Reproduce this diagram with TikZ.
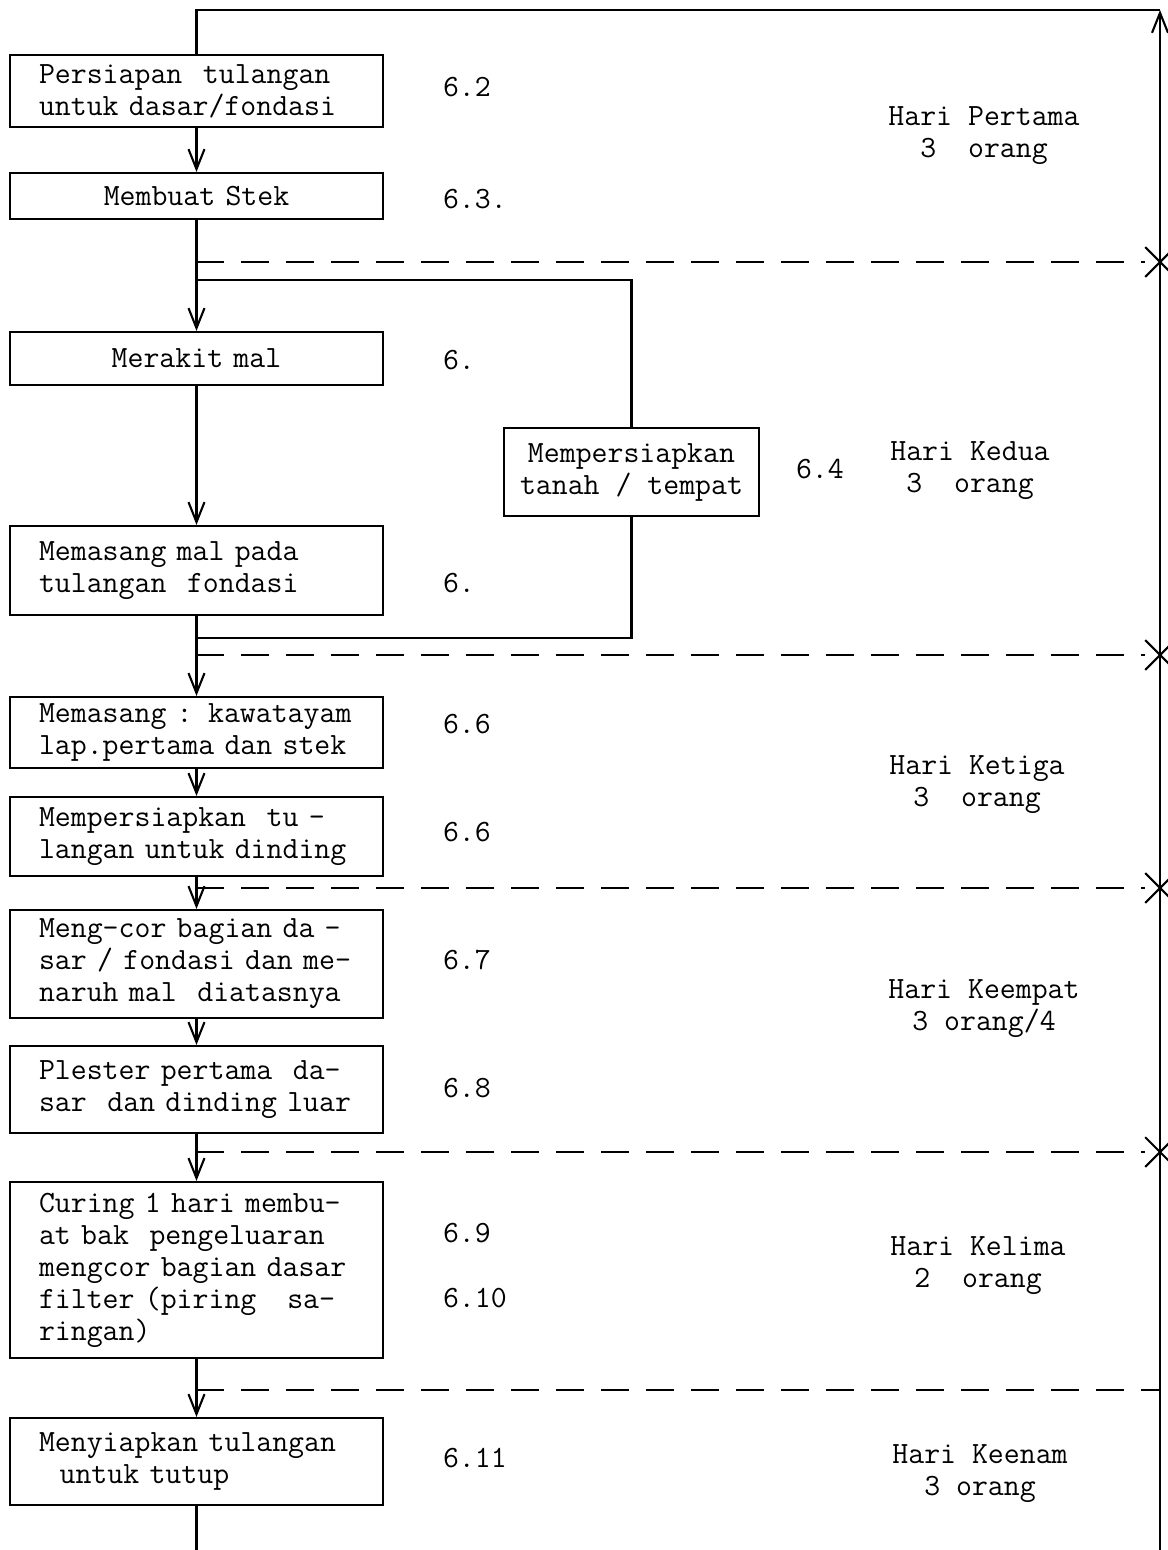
\documentclass[tikz,border=0pt]{standalone}
\usetikzlibrary{arrows.meta,shapes.misc,positioning}
\begin{document}
\begin{tikzpicture}[x=0.02cm, y=-0.02cm, line width=1.2pt,
    box/.style={draw, minimum width=7.46cm, text width=6.3cm, align=left, inner sep=0pt, font=\ttfamily\fontsize{17.6}{18.2}\selectfont},
    sidebox/.style={draw, minimum width=5.1cm, minimum height=1.76cm, align=center, inner sep=0pt, font=\ttfamily\fontsize{17.6}{18.2}\selectfont},
    num/.style={anchor=west, inner sep=0pt, font=\ttfamily\fontsize{17.6}{18.2}\selectfont},
    day/.style={align=center, inner sep=0pt, font=\ttfamily\fontsize{17.6}{18.2}\selectfont},
    xmark/.style={cross out, draw, minimum size=0.55cm, inner sep=0pt},
    arr/.style={-{Straight Barb[length=4mm, width=3.2mm]}},
    dashline/.style={dash pattern=on 0.56cm off 0.34cm}
  ]
    \useasboundingbox (0,0) rectangle (1168,1550);

    \node[box, minimum height=1.44cm] (persiapan) at (196.5,91) {Persiapan~~tulangan\\untuk dasar/fondasi};
    \node[box, minimum height=0.92cm, align=center] (stek) at (196.5,196) {Membuat Stek};
    \node[box, minimum height=1.06cm, align=center] (merakit) at (196.5,358.5) {Merakit mal};
    \node[box, minimum height=1.78cm] (pasangmal) at (196.5,570.5) {Memasang mal pada\\tulangan~~fondasi};
    \node[box, minimum height=1.42cm] (kawat) at (196.5,732.5) {Memasang : kawatayam\\lap.pertama dan stek};
    \node[box, minimum height=1.58cm] (dinding) at (196.5,836.5) {Mempersiapkan~~tu -\\langan untuk dinding};
    \node[box, minimum height=2.16cm] (ngecor) at (196.5,964) {Meng-cor bagian da -\\sar / fondasi dan me-\\naruh mal~~diatasnya};
    \node[box, minimum height=1.74cm] (plester) at (196.5,1089.5) {Plester pertama~~da-\\sar~~dan dinding luar};
    \node[box, minimum height=3.52cm] (curing) at (196.5,1270) {Curing 1 hari membu-\\at bak~~pengeluaran\\mengcor bagian dasar\\filter (piring~~~sa-\\ringan)};
    \node[box, minimum height=1.74cm] (tutup) at (196.5,1461.5) {Menyiapkan tulangan\\~~untuk tutup};
    \node[sidebox] (tanah) at (631.5,472) {Mempersiapkan\\tanah / tempat};

    \node[num] (n62) at (442,87) {6.2};
    \node[num] (n63) at (442,199) {6.3.};
    \node[num] (n6a) at (442,360) {6.};
    \node[num] (n6b) at (442,583) {6.};
    \node[num] (n64) at (795,469) {6.4};
    \node[num] (n66a) at (442,724) {6.6};
    \node[num] (n66b) at (442,832) {6.6};
    \node[num] (n67) at (442,960) {6.7};
    \node[num] (n68) at (442,1088) {6.8};
    \node[num] (n69) at (442,1233) {6.9};
    \node[num] (n610) at (442,1298) {6.10};
    \node[num] (n611) at (442,1458) {6.11};

    \node[day] (hari1) at (984,136) {Hari Pertama\\3~~orang};
    \node[day] (hari2) at (970,471) {Hari Kedua\\3~~orang};
    \node[day] (hari3) at (977,785) {Hari Ketiga\\3~~orang};
    \node[day] (hari4) at (984,1009) {Hari Keempat\\3 orang/4};
    \node[day] (hari5) at (978,1266) {Hari Kelima\\2~~orang};
    \node[day] (hari6) at (980,1474) {Hari Keenam\\3 orang};

    \coordinate (topr) at (1160,10);
    \coordinate (botr) at (1160,1550);
    \coordinate (lptop) at (196.5,280);
    \coordinate (lpbot) at (196.5,638);
    \coordinate (d5) at (1160,1390);
    \node[xmark] (x1) at (1160,262) {};
    \node[xmark] (x2) at (1160,655) {};
    \node[xmark] (x3) at (1160,888) {};
    \node[xmark] (x4) at (1160,1152) {};

    \draw (persiapan.north) -- (persiapan.north |- topr) -- (topr);
    \draw[arr] (botr) -- (topr);
    \draw[arr] (persiapan) -- (stek);
    \draw[arr] (stek) -- (merakit);
    \draw[arr] (merakit) -- (pasangmal);
    \draw[arr] (pasangmal) -- (kawat);
    \draw[arr] (kawat) -- (dinding);
    \draw[arr] (dinding) -- (ngecor);
    \draw[arr] (ngecor) -- (plester);
    \draw[arr] (plester) -- (curing);
    \draw[arr] (curing) -- (tutup);
    \draw (tutup.south) -- (tutup.south |- botr);

    \draw (lptop) -- (lptop -| tanah.north) -- (tanah.north);
    \draw (tanah.south) -- (tanah.south |- lpbot) -- (lpbot);

    \draw[dashline] (x1 -| stek.south) -- (x1);
    \draw[dashline] (x2 -| stek.south) -- (x2);
    \draw[dashline] (x3 -| stek.south) -- (x3);
    \draw[dashline] (x4 -| stek.south) -- (x4);
    \draw[dashline] (d5 -| stek.south) -- (d5);
\end{tikzpicture}
\end{document}
